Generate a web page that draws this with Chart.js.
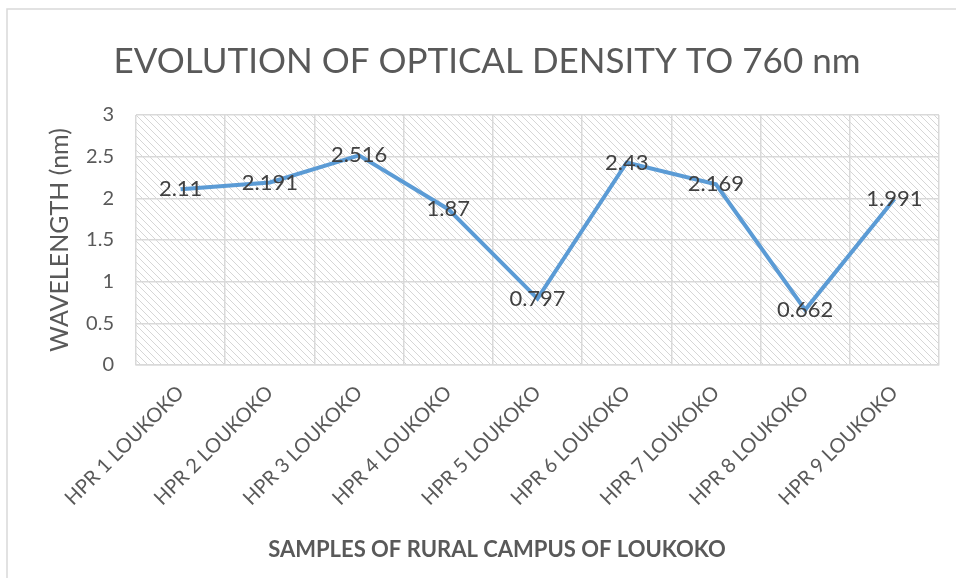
<!DOCTYPE html>
<html>
<head>
<meta charset="utf-8">
<script src="https://cdn.jsdelivr.net/npm/chart.js@4/dist/chart.umd.min.js"></script>
<style>
  html, body { margin: 0; padding: 0; background: #fff; }
  #wrap { width: 956px; height: 578px; position: relative; }
</style>
</head>
<body>
<div id="wrap"><canvas id="odChart" width="956" height="578"></canvas></div>
<script>
// ─── Data ──────────────────────────────────────────────
const samples = ['HPR 1 LOUKOKO', 'HPR 2 LOUKOKO', 'HPR 3 LOUKOKO', 'HPR 4 LOUKOKO', 'HPR 5 LOUKOKO',
  'HPR 6 LOUKOKO', 'HPR 7 LOUKOKO', 'HPR 8 LOUKOKO', 'HPR 9 LOUKOKO'];
const opticalDensity = [2.11, 2.191, 2.516, 1.87, 0.797, 2.43, 2.169, 0.662, 1.991];
const yTicks = [0, 0.5, 1, 1.5, 2, 2.5, 3];
const chartTitle = 'EVOLUTION OF OPTICAL DENSITY TO 760 nm';
const xAxisTitle = 'SAMPLES OF RURAL CAMPUS OF LOUKOKO';

const FONT = 'Lato, "Open Sans", sans-serif';

// diagonal hatch used behind the plot area
function makeHatch() {
  const s = 7;
  const c = document.createElement('canvas');
  c.width = s; c.height = s;
  const g = c.getContext('2d');
  g.strokeStyle = '#d6d6d6';
  g.lineWidth = 1;
  for (let k = -1; k <= 1; k++) {
    g.beginPath();
    g.moveTo(k * s, 0);
    g.lineTo(k * s + s, s);
    g.stroke();
  }
  return g.createPattern(c, 'repeat');
}

const plotBackdrop = {
  id: 'plotBackdrop',
  beforeDraw(chart) {
    const { ctx, chartArea: a } = chart;
    ctx.save();
    ctx.fillStyle = makeHatch();
    ctx.fillRect(a.left, a.top, a.right - a.left, a.bottom - a.top);
    ctx.restore();
  },
  afterDraw(chart) {
    const { ctx } = chart;
    ctx.save();
    // outer chart frame (only top and left edges are visible)
    ctx.strokeStyle = '#d9d9d9';
    ctx.lineWidth = 1.5;
    ctx.beginPath();
    ctx.moveTo(7, 600);
    ctx.lineTo(7, 9);
    ctx.lineTo(1000, 9);
    ctx.stroke();
    // titles are centred on the whole frame, not on the plot
    ctx.fillStyle = '#595959';
    ctx.textAlign = 'center';
    ctx.textBaseline = 'middle';
    ctx.font = '35px ' + FONT;
    ctx.fillText(chartTitle, 487, 62);
    ctx.font = 'bold 22px ' + FONT;
    ctx.fillText(xAxisTitle, 497, 550);
    ctx.restore();
  }
};

// value labels centred on each point
const valueLabels = {
  id: 'valueLabels',
  afterDatasetsDraw(chart) {
    const { ctx } = chart;
    const meta = chart.getDatasetMeta(0);
    ctx.save();
    ctx.font = '22px ' + FONT;
    ctx.fillStyle = '#404040';
    ctx.textAlign = 'center';
    ctx.textBaseline = 'middle';
    meta.data.forEach((pt, i) => {
      ctx.fillText(String(opticalDensity[i]), pt.x, pt.y);
    });
    ctx.restore();
  }
};

new Chart(document.getElementById('odChart'), {
  type: 'line',
  data: {
    labels: samples,
    datasets: [{
      data: opticalDensity,
      borderColor: '#5b9bd5',
      borderWidth: 4,
      pointRadius: 0,
      tension: 0,
      fill: false
    }]
  },
  options: {
    responsive: false,
    animation: false,
    layout: { padding: { left: 0, right: 17, top: 115, bottom: 0 } },
    plugins: {
      legend: { display: false },
      tooltip: { enabled: false },
      title: { display: false }
    },
    scales: {
      x: {
        offset: true,
        afterFit(scale) { scale.height = 213; },
        grid: { offset: true, color: '#d9d9d9', lineWidth: 1.5, drawTicks: false },
        border: { color: '#d9d9d9', width: 1.5 },
        ticks: {
          color: '#595959',
          font: { family: FONT, size: 20 },
          minRotation: 45,
          maxRotation: 45,
          padding: 16,
          autoSkip: false
        },
        title: { display: false }
      },
      y: {
        min: 0,
        max: 3,
        afterFit(scale) { scale.width = 136; },
        afterBuildTicks(scale) { scale.ticks = yTicks.map(v => ({ value: v })); },
        grid: { color: '#d9d9d9', lineWidth: 1.5, drawTicks: false },
        border: { display: false },
        ticks: {
          color: '#595959',
          font: { family: FONT, size: 20 },
          padding: 22,
          callback: v => String(v)
        },
        title: {
          display: true,
          text: 'WAVELENGTH (nm)',
          color: '#595959',
          font: { family: FONT, size: 25, weight: 'normal', lineHeight: 1.2 },
          padding: { top: 45, bottom: 0 }
        }
      }
    }
  },
  plugins: [plotBackdrop, valueLabels]
});
</script>
</body>
</html>
